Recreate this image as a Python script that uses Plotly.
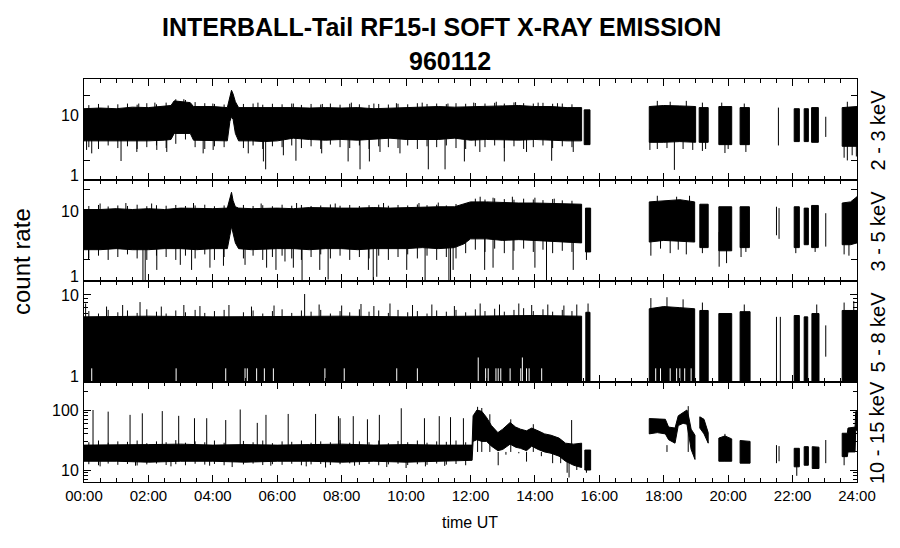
import math
import plotly.graph_objects as go
from plotly.subplots import make_subplots

# ------------------------------------------------------------------ data
# hours UT; bands given as (times, upper envelope, lower envelope)
hours_ticks = [0, 2, 4, 6, 8, 10, 12, 14, 16, 18, 20, 22, 24]
hour_labels = ["00:00", "02:00", "04:00", "06:00", "08:00", "10:00", "12:00",
               "14:00", "16:00", "18:00", "20:00", "22:00", "24:00"]
channel_labels = ["2 - 3 keV", "3 - 5 keV", "5 - 8 keV", "10 - 15 keV"]

# times at which the ragged fringe of the dense main bands was read
fringe_t = [0.15, 0.45, 0.75, 1.05, 1.35, 1.65, 1.95, 2.25, 2.55, 2.85, 3.15, 3.45, 3.75, 4.05,
            4.35, 4.95, 5.25, 5.55, 5.85, 6.15, 6.45, 6.75, 7.05, 7.35, 7.65, 7.95, 8.25, 8.55,
            8.85, 9.15, 9.45, 9.75, 10.05, 10.35, 10.65, 10.95, 11.25, 11.55, 11.85, 12.15,
            12.45, 12.75, 13.05, 13.35, 13.65, 13.95, 14.25, 14.55, 14.85, 15.15]

# ---- 2 - 3 keV
p1_main_t = [0.0, 0.5, 1.0, 1.5, 2.0, 2.5, 2.7, 2.8, 3.3, 3.4, 4.0, 4.45, 4.53, 4.58, 4.63, 4.7, 4.8,
             5.2, 5.6, 6.0, 6.5, 7.0, 7.5, 8.0, 8.5, 9.0, 9.5, 10.0, 10.5, 11.0, 11.5, 12.0,
             12.5, 13.0, 13.5, 14.0, 14.5, 15.0, 15.45]
p1_main_up = [12.5, 12.8, 12.5, 13.2, 13.0, 13.5, 14.0, 16.5, 15.5, 13.5, 13.5, 13.0, 18.0, 24.0, 21.0, 16.0, 13.0,
              13.0, 13.2, 13.0, 13.0, 12.8, 13.0, 12.8, 13.0, 12.5, 12.8, 13.0, 13.2, 13.5, 13.2, 13.5,
              13.5, 13.8, 14.0, 13.5, 13.5, 13.0, 13.0]
p1_main_lo = [4.0, 4.0, 3.9, 4.0, 4.0, 4.1, 4.2, 5.2, 5.2, 4.1, 4.0, 4.0, 8.0, 9.4, 8.5, 5.2, 4.0,
              4.0, 3.9, 4.0, 4.4, 4.2, 4.1, 4.2, 4.1, 4.2, 4.4, 4.2, 4.2, 4.2, 4.4, 4.1,
              4.2, 4.2, 4.1, 4.2, 4.1, 4.0, 4.0]
p1_segs = [
    (p1_main_t, p1_main_up, p1_main_lo),
    ([15.53, 15.71], [12.0, 12.0], [3.5, 3.5]),
    ([17.55, 18.0, 18.5, 18.99], [13.5, 14.0, 13.8, 13.5], [3.8, 3.8, 3.9, 3.8]),
    ([19.10, 19.38], [13.0, 13.0], [3.8, 3.8]),
    ([19.71, 20.11], [13.5, 13.5], [3.5, 3.5]),
    ([20.37, 20.66], [13.0, 13.0], [3.5, 3.5]),
    ([22.05, 22.21], [12.5, 12.5], [3.9, 3.9]),
    ([22.36, 22.49], [12.5, 12.5], [3.9, 3.9]),
    ([22.59, 22.80], [13.0, 13.0], [3.8, 3.8]),
    ([23.54, 24.0], [13.0, 13.5], [3.3, 3.3]),
]
p1_lines = [(21.56, 3.4, 13.0), (23.03, 4.6, 9.4)]
p1_fringe_lo = [3.2, 3.0, 3.4, 3.1, 3.3, 3.0, 3.2, 3.4, 3.1, 3.6, 4.2, 3.2, 3.0, 3.3, 3.2, 3.1, 3.4,
                3.0, 3.3, 3.2, 3.4, 3.1, 3.3, 3.0, 3.5, 3.2, 3.1, 3.4, 3.0, 3.3, 3.2, 3.1, 3.4, 3.0,
                3.3, 3.2, 3.4, 3.1, 3.0, 3.3, 3.2, 3.4, 3.1, 3.3, 3.0, 3.2, 3.4, 3.1, 3.3, 3.2]
p1_fringe_up = [14.2, 14.8, 14.0, 14.6, 15.0, 14.4, 15.2, 14.6, 15.5, 17.5, 17.0, 15.8, 15.2, 14.8,
                14.5, 14.8, 15.0, 14.4, 14.9, 14.6, 15.0, 14.3, 14.8, 14.5, 15.0, 14.4, 14.9, 14.6,
                14.3, 14.8, 14.5, 14.9, 14.6, 15.2, 14.8, 15.0, 14.7, 15.2, 14.9, 15.3, 15.0, 15.4,
                15.0, 15.6, 15.2, 15.0, 15.4, 14.9, 15.0, 14.6]
p1_spikes_dn = [(0.08, 2.9), (0.24, 2.57), (1.15, 1.96), (1.64, 2.7), (2.26, 2.9), (2.57, 2.7),
                (3.7, 2.57), (4.01, 2.9), (5.1, 2.57), (5.57, 1.93), (5.64, 1.46), (6.19, 2.4),
                (6.58, 1.98), (7.38, 2.57), (8.2, 1.93), (8.57, 1.46), (8.86, 1.93), (9.19, 2.7),
                (9.81, 2.57), (10.69, 1.46), (11.21, 1.46), (11.81, 1.93), (12.29, 2.7), (13.05, 1.93),
                (13.74, 2.7), (14.52, 1.98), (15.19, 2.7), (17.57, 2.9), (18.33, 1.43), (19.2, 2.8),
                (19.9, 2.6), (20.55, 2.7), (23.6, 2.2), (23.7, 2.0), (23.85, 2.4), (23.98, 2.3),
                (17.8, 3.0), (18.1, 3.1), (18.6, 3.0), (18.9, 2.9), (19.3, 3.0), (20.0, 3.0)]
p1_spikes_up = [(1.7, 15.0), (2.2, 15.5), (3.1, 17.5), (4.0, 15.0), (5.4, 15.5), (6.5, 15.0),
                (7.4, 14.8), (8.3, 15.5), (9.0, 15.0), (9.7, 15.2), (10.5, 15.5), (11.3, 15.0),
                (12.1, 15.5), (12.8, 16.0), (13.4, 15.8), (14.1, 15.5), (14.7, 15.2), (17.8, 16.5),
                (18.2, 16.0), (18.7, 16.5), (19.2, 15.5), (19.8, 15.5), (20.5, 15.0), (23.7, 16.0)]

# ---- 3 - 5 keV
p2_main_t = [0.0, 0.5, 1.0, 1.5, 2.0, 2.5, 3.0, 3.5, 4.0, 4.45, 4.53, 4.58, 4.63, 4.7, 4.8, 5.2,
             6.0, 6.5, 7.0, 7.5, 8.0, 8.5, 9.0, 9.5, 10.0, 10.5, 11.0, 11.5, 11.8, 12.0, 12.5,
             13.0, 13.5, 14.0, 14.5, 15.0, 15.45]
p2_main_up = [10.5, 10.5, 10.8, 10.5, 10.8, 10.5, 11.0, 10.8, 10.8, 11.0, 15.0, 18.5, 14.0, 11.5, 11.0, 10.8,
              11.0, 10.8, 11.2, 11.0, 11.0, 11.0, 11.2, 11.0, 11.2, 11.5, 11.5, 11.5, 12.5, 13.5, 13.5,
              13.2, 13.0, 13.0, 12.8, 12.5, 12.5]
p2_main_lo = [2.8, 2.8, 2.9, 2.8, 2.8, 2.9, 2.9, 2.8, 2.9, 2.9, 4.5, 6.0, 5.0, 3.5, 2.9, 2.8,
              2.9, 2.9, 2.8, 2.9, 2.9, 2.8, 2.9, 2.9, 2.9, 3.0, 2.9, 3.0, 3.4, 4.0, 4.0,
              3.8, 3.9, 3.8, 3.7, 3.6, 3.5]
p2_segs = [
    (p2_main_t, p2_main_up, p2_main_lo),
    ([15.57, 15.73], [11.0, 11.0], [2.6, 2.6]),
    ([17.55, 18.0, 18.5, 18.96], [13.5, 14.0, 14.5, 13.5], [3.6, 3.8, 3.7, 3.6]),
    ([19.12, 19.38], [12.5, 12.5], [3.0, 3.0]),
    ([19.71, 20.11], [11.5, 11.5], [2.7, 2.7]),
    ([20.37, 20.66], [11.5, 11.5], [3.0, 3.0]),
    ([22.05, 22.21], [11.5, 11.5], [3.0, 3.0]),
    ([22.36, 22.49], [11.0, 11.0], [3.3, 3.3]),
    ([22.59, 22.80], [12.0, 12.0], [3.0, 3.0]),
    ([23.54, 23.8, 24.0], [13.0, 13.5, 16.0], [3.3, 3.3, 3.5]),
]
p2_lines = [(21.5, 4.5, 11.5), (21.58, 4.0, 11.0), (23.03, 3.1, 9.3)]
p2_fringe_lo = [2.1, 2.3, 2.0, 2.2, 2.4, 2.1, 2.0, 2.3, 2.2, 2.0, 2.3, 2.1, 2.4, 2.0, 2.2, 2.1,
                2.3, 2.0, 2.2, 2.3, 2.1, 2.0, 2.2, 2.4, 2.1, 2.3, 2.0, 2.2, 2.1, 2.3, 2.0, 2.2,
                2.4, 2.1, 2.3, 2.0, 2.2, 2.1, 2.5, 2.8, 2.6, 2.9, 2.5, 2.7, 2.9, 2.6, 2.8, 2.5,
                2.7, 2.6]
p2_fringe_up = [11.8, 12.2, 11.6, 12.0, 11.8, 12.3, 11.7, 12.1, 11.9, 12.2, 11.8, 12.0, 12.3, 11.7,
                12.0, 12.2, 11.8, 12.1, 11.7, 12.3, 11.9, 12.2, 11.8, 12.0, 12.4, 11.9, 12.2, 11.8,
                12.1, 12.3, 11.9, 12.2, 12.0, 12.4, 12.1, 12.3, 12.0, 12.6, 13.0, 15.0, 14.6, 15.2,
                14.8, 14.5, 15.0, 14.6, 14.3, 14.8, 14.2, 14.0]
p2_spikes_dn = [(0.14, 2.0), (1.83, 1.0), (1.9, 1.0), (2.26, 1.44), (2.99, 1.7), (3.34, 1.44),
                (3.91, 1.55), (4.33, 1.65), (5.0, 1.7), (5.67, 1.55), (5.96, 1.44), (6.5, 1.55),
                (6.24, 1.9), (6.77, 1.0), (7.32, 1.44), (7.58, 1.05), (8.83, 1.44), (8.98, 1.0),
                (9.09, 1.15), (10.02, 1.44), (10.59, 1.0), (11.33, 1.0), (11.38, 1.0), (11.46, 1.44),
                (12.44, 1.44), (12.7, 1.55), (13.32, 1.44), (14.0, 1.55), (14.36, 1.0), (15.19, 1.44),
                (15.6, 2.0), (17.6, 2.3), (18.2, 2.5), (18.7, 2.4), (19.72, 1.6), (19.95, 1.8),
                (20.4, 2.2), (23.6, 2.4), (23.75, 2.3), (17.9, 2.9), (18.45, 2.8), (19.2, 2.5),
                (20.55, 2.6), (22.1, 2.5), (22.7, 2.6)]
p2_spikes_up = [(0.5, 12.8), (1.3, 13.0), (2.1, 12.8), (3.4, 13.0), (5.5, 12.8), (6.6, 13.0),
                (7.8, 12.8), (9.3, 13.0), (10.4, 13.0), (11.0, 13.2), (12.3, 16.0), (12.7, 15.5),
                (13.3, 16.0), (14.0, 15.5), (14.6, 15.0), (17.8, 16.5), (18.4, 16.0), (18.8, 16.5)]

# ---- 5 - 8 keV
p3_segs = [
    ([0.0, 2.0, 4.0, 6.0, 8.0, 10.0, 12.0, 14.0, 15.45],
     [5.5, 5.6, 5.5, 5.6, 5.6, 5.5, 5.6, 5.7, 5.6],
     [0.9, 0.9, 0.9, 0.9, 0.9, 0.9, 0.9, 0.9, 0.9]),
    ([15.58, 15.71], [6.2, 6.2], [0.9, 0.9]),
    ([17.55, 18.0, 18.5, 18.96], [6.8, 7.2, 7.0, 6.8], [0.9, 0.9, 0.9, 0.9]),
    ([19.12, 19.38], [6.5, 6.5], [0.9, 0.9]),
    ([19.71, 20.11], [6.0, 6.0], [0.9, 0.9]),
    ([20.37, 20.68], [6.3, 6.3], [0.9, 0.9]),
    ([22.05, 22.21], [5.7, 5.7], [0.9, 0.9]),
    ([22.36, 22.47], [5.5, 5.5], [0.9, 0.9]),
    ([22.60, 22.82], [6.0, 6.0], [0.9, 0.9]),
    ([23.54, 24.0], [6.5, 6.5], [0.9, 0.9]),
]
p3_lines = [(21.5, 0.9, 5.5), (21.62, 0.9, 5.5), (23.03, 1.94, 4.4)]
p3_fringe_up = [6.4, 6.0, 6.6, 6.2, 6.5, 6.1, 6.7, 6.3, 6.0, 6.5, 6.2, 6.6, 6.1, 6.4, 6.6, 6.2,
                6.5, 6.0, 6.4, 6.7, 6.1, 6.5, 6.3, 6.6, 6.0, 6.4, 6.2, 6.7, 6.3, 6.5, 6.1, 6.6,
                6.2, 6.4, 6.0, 6.5, 6.3, 6.6, 6.2, 6.7, 6.4, 6.8, 6.3, 6.6, 6.9, 6.4, 6.7, 6.3,
                6.6, 6.4]
p3_spikes_up = [(0.05, 7.8), (0.7, 7.2), (1.2, 7.5), (1.74, 8.1), (2.4, 7.2), (3.1, 7.5), (3.6, 7.3),
                (4.5, 7.5), (5.2, 7.2), (5.9, 7.4), (6.85, 10.0), (7.3, 7.6), (8.0, 7.4), (8.6, 7.7),
                (9.0, 7.3), (9.5, 7.8), (10.2, 7.5), (10.8, 7.6), (11.5, 7.3), (12.3, 7.8), (12.9, 7.6),
                (13.5, 7.8), (13.9, 7.5), (14.4, 7.6), (14.9, 7.4), (15.3, 7.6), (15.65, 7.8),
                (17.6, 9.0), (18.1, 9.2), (18.6, 8.7), (19.2, 8.0), (20.5, 7.6), (22.75, 7.6),
                (23.6, 8.0), (23.9, 8.3)]
p3_gaps = [(0.24, 1.43), (2.86, 1.43), (4.4, 1.43), (5.0, 1.43), (5.07, 1.43), (5.36, 1.43),
           (5.6, 1.43), (5.88, 1.43), (7.48, 1.43), (8.08, 1.43), (9.71, 1.43), (10.35, 1.43),
           (12.24, 1.9), (12.47, 1.43), (12.55, 1.43), (12.79, 1.43), (12.86, 1.43), (12.94, 1.43),
           (13.23, 1.43), (13.56, 1.43), (13.61, 1.9), (13.74, 1.43), (13.82, 1.43), (14.21, 1.43),
           (17.75, 1.43), (17.9, 1.43), (18.2, 1.43), (18.4, 1.43), (18.5, 1.43), (18.65, 1.43),
           (18.85, 1.43)]

# ---- 10 - 15 keV
p4_main_t = [0.0, 1.0, 2.0, 3.0, 4.0, 5.0, 6.0, 7.0, 8.0, 9.0, 10.0, 11.0, 12.05,
             12.08, 12.2, 12.35, 12.5, 12.65, 12.85, 13.0, 13.23, 13.4, 13.55, 13.74, 13.9,
             14.1, 14.3, 14.5, 14.75, 14.95, 15.2, 15.45]
p4_main_up = [26, 26, 26.5, 27, 26, 26.5, 26, 26.5, 27, 26, 26.5, 26, 26,
              80, 100, 95, 75, 55, 42, 48, 62, 52, 48, 45, 50,
              45, 40, 38, 34, 28, 27, 28]
p4_main_lo = [14, 14, 13.5, 14, 14, 13.5, 14, 14, 13.5, 14, 13.5, 14, 14.5,
              30, 32, 30, 30, 25, 21, 22, 27, 24, 23, 21, 25,
              22, 20, 19, 17, 14, 12, 11]
p4_segs = [
    (p4_main_t, p4_main_up, p4_main_lo),
    ([15.55, 15.73], [21.5, 21.5], [10.0, 10.0]),
    ([17.55, 17.8, 18.05, 18.15, 18.35, 18.45, 18.6, 18.72, 18.78, 18.85, 18.97],
     [72, 72, 70, 52, 50, 80, 92, 100, 75, 48, 38],
     [40, 42, 40, 32, 28, 55, 60, 58, 40, 22, 15]),
    ([19.12, 19.25, 19.38], [77, 70, 42], [50, 40, 28]),
    ([19.71, 19.9, 20.11], [34, 37, 33], [14, 14, 14]),
    ([20.37, 20.68], [31, 30], [13, 13]),
    ([22.05, 22.21], [23, 23], [11.3, 11.3]),
    ([22.36, 22.49], [24.5, 24.5], [12, 12]),
    ([22.61, 22.82], [24.5, 24], [10.6, 10.6]),
    ([23.54, 23.7, 23.72, 23.94, 23.96, 24.0], [41, 41, 50, 52, 94, 94], [16.7, 16.7, 20, 20, 46, 46]),
]
p4_lines = [(21.5, 13, 26), (21.58, 14, 25), (23.03, 13, 31.6)]
p4_fringe_t = fringe_t[:39]
p4_fringe_up = [29, 31, 28.5, 30, 29.5, 31, 28, 30, 29, 31.5, 28.5, 30, 29, 31, 28.5, 30.5,
                29, 31, 28, 30, 29.5, 31, 28.5, 30, 29, 31.5, 28.5, 30, 29, 31, 28, 30.5, 29,
                31, 28.5, 30, 29.5, 31, 29]
p4_fringe_lo = [12.5, 12.0, 12.8, 12.2, 12.6, 11.9, 12.4, 12.8, 12.1, 12.5, 12.0, 12.7, 12.3,
                12.6, 12.0, 12.4, 12.8, 12.1, 12.5, 12.2, 12.7, 12.0, 12.4, 12.6, 12.1, 12.5,
                12.9, 12.2, 12.6, 12.0, 12.4, 12.7, 12.1, 12.5, 12.2, 12.8, 12.3, 12.6, 12.0]
p4_spikes_up = [(0.28, 100), (0.75, 94), (1.43, 83), (1.81, 88), (2.43, 96), (2.94, 80), (3.43, 73),
                (3.81, 73), (4.4, 68), (4.85, 102), (5.38, 61), (5.65, 83), (6.34, 86), (7.19, 86),
                (7.9, 79), (7.95, 73), (8.36, 79), (8.8, 70), (9.17, 83), (9.85, 107), (10.57, 73),
                (11.03, 79), (11.38, 76), (11.78, 73), (12.22, 113), (12.35, 108), (15.14, 68),
                (18.76, 116), (19.9, 40), (12.6, 85), (13.25, 70), (13.95, 58)]
p4_spikes_dn = [(0.5, 11.5), (1.6, 11.8), (2.7, 11.5), (3.9, 11.8), (4.6, 11.2), (5.8, 11.8),
                (6.9, 11.5), (7.5, 11.0), (8.4, 11.8), (9.4, 11.2), (10.0, 10.8), (10.6, 11.5),
                (11.2, 11.7), (12.3, 20), (12.86, 12), (13.74, 13.8), (14.55, 13), (15.0, 9),
                (15.06, 7.5), (15.3, 10), (15.6, 9), (18.1, 26), (22.13, 8), (23.6, 12),
                (13.1, 18), (13.5, 19), (14.2, 17), (14.8, 13)]

# ------------------------------------------------------------------ helpers
def band_xy(segs):
    xs, ys = [], []
    for t, up, lo in segs:
        xs += list(t) + list(t[::-1]) + [t[0], None]
        ys += list(up) + list(lo[::-1]) + [up[0], None]
    return xs, ys


def vlines_xy(items):
    xs, ys = [], []
    for t, a, b in items:
        xs += [t, t, None]
        ys += [a, b, None]
    return xs, ys


def spikes(items, base):
    return [(t, base, v) for t, v in items]


def fringe(times, vals, base):
    return [(t, base, v) for t, v in zip(times, vals)]


panels = [
    dict(segs=p1_segs,
         lines=p1_lines + spikes(p1_spikes_dn, 6) + spikes(p1_spikes_up, 9)
         + fringe(fringe_t, p1_fringe_lo, 6) + fringe(fringe_t, p1_fringe_up, 9), gaps=[]),
    dict(segs=p2_segs,
         lines=p2_lines + spikes(p2_spikes_dn, 5) + spikes(p2_spikes_up, 8)
         + fringe(fringe_t, p2_fringe_lo, 5) + fringe(fringe_t, p2_fringe_up, 8), gaps=[]),
    dict(segs=p3_segs,
         lines=p3_lines + spikes(p3_spikes_up, 4) + fringe(fringe_t, p3_fringe_up, 4),
         gaps=p3_gaps),
    dict(segs=p4_segs,
         lines=p4_lines + spikes(p4_spikes_up, 20) + spikes(p4_spikes_dn, 20)
         + fringe(p4_fringe_t, p4_fringe_up, 20) + fringe(p4_fringe_t, p4_fringe_lo, 20), gaps=[]),
]

fig = make_subplots(rows=4, cols=1, shared_xaxes=True, vertical_spacing=0)

for i, p in enumerate(panels, start=1):
    bx, by = band_xy(p["segs"])
    fig.add_trace(go.Scatter(x=bx, y=by, mode="lines", fill="toself", fillcolor="black",
                             line=dict(color="black", width=1), hoverinfo="skip",
                             showlegend=False), row=i, col=1)
    lx, ly = vlines_xy(p["lines"])
    fig.add_trace(go.Scatter(x=lx, y=ly, mode="lines", line=dict(color="black", width=1),
                             hoverinfo="skip", showlegend=False), row=i, col=1)
    if p["gaps"]:
        gx, gy = vlines_xy([(t, 0.9, v) for t, v in p["gaps"]])
        fig.add_trace(go.Scatter(x=gx, y=gy, mode="lines", line=dict(color="white", width=1),
                                 hoverinfo="skip", showlegend=False), row=i, col=1)

# ------------------------------------------------------------------ axes
# page is rendered with an 8 px body margin, so the figure is 892x540 and offset by 8 px
OFF = 8
FIG_W, FIG_H = 900 - OFF, 548 - OFF
P_L, P_R, H_TOP, H_BOT = 84, 857, 79, 482       # plot area in page pixels
tot = H_BOT - H_TOP
wid = P_R - P_L
bounds = [79, 180, 281, 382, 482]
domains = [[(H_BOT - bounds[k + 1]) / tot, (H_BOT - bounds[k]) / tot] for k in range(4)]

font_main = "Liberation Sans, Arial, Helvetica, sans-serif"

yranges = [[0, 1.554], [0, 1.443], [0, 1.148], [0.8, 2.467]]
ymajor = [[1, 2, 10, 20], [1, 2, 10, 20], [1, 10], [10, 100]]
yminor = [[], [], [2, 3, 4, 5, 6, 7, 8, 9],
          [7, 8, 9, 20, 30, 40, 50, 60, 70, 80, 90, 200]]
# y tick labels: (value, text, vertical nudge in px)
ylabels = [[(1, "1", 5), (10, "10", 0)],
           [(1, "1", 5), (10, "10", 0)],
           [(1, "1", 6), (10, "10", -1)],
           [(10, "10", 0), (100, "100", 0)]]

for k in range(4):
    n = k + 1
    xa = "xaxis" if n == 1 else f"xaxis{n}"
    ya = "yaxis" if n == 1 else f"yaxis{n}"
    fig.layout[xa].update(
        range=[0, 24], showline=True, linecolor="black", linewidth=1, mirror="ticks",
        ticks="inside", ticklen=7, tickwidth=1, tickcolor="black",
        tickvals=hours_ticks, ticktext=hour_labels, showticklabels=(n == 4),
        minor=dict(dtick=0.5, ticks="inside", ticklen=4, tickcolor="black", tickwidth=1),
        showgrid=False, zeroline=False, automargin=False,
        tickfont=dict(family=font_main, size=15, color="black"),
    )
    fig.layout[ya].update(
        type="log", range=yranges[k], domain=domains[k],
        showline=True, linecolor="black", linewidth=1, mirror="ticks",
        ticks="inside", ticklen=7 if k >= 2 else 6, tickwidth=1, tickcolor="black",
        tickvals=ymajor[k], showticklabels=False,
        minor=dict(tickvals=yminor[k], ticks="inside", ticklen=4, tickcolor="black", tickwidth=1)
        if yminor[k] else dict(ticks=""),
        showgrid=False, zeroline=False, automargin=False,
    )

fig.update_layout(
    template="none",
    width=FIG_W, height=FIG_H,
    margin=dict(l=P_L - OFF, r=FIG_W - (P_R - OFF), t=H_TOP - OFF, b=FIG_H - (H_BOT - OFF),
                autoexpand=False),
    paper_bgcolor="white", plot_bgcolor="white",
    showlegend=False,
)


def px(xp):
    return (xp - P_L) / wid


def py(yp):
    return (H_BOT - yp) / tot


ann = []
ann.append(dict(text="<b>INTERBALL-Tail RF15-I SOFT X-RAY EMISSION</b>", x=px(441), y=py(27),
                xref="paper", yref="paper", showarrow=False, xanchor="center", yanchor="middle",
                font=dict(family=font_main, size=25, color="black")))
ann.append(dict(text="<b>960112</b>", x=px(450), y=py(61),
                xref="paper", yref="paper", showarrow=False, xanchor="center", yanchor="middle",
                font=dict(family=font_main, size=25, color="black")))
ann.append(dict(text="count rate", x=px(22), y=py(262), xref="paper",
                yref="paper", showarrow=False, textangle=-90, xanchor="center", yanchor="middle",
                font=dict(family=font_main, size=24, color="black")))
ann.append(dict(text="time UT", x=px(470), y=py(522), xref="paper",
                yref="paper", showarrow=False, xanchor="center", yanchor="middle",
                font=dict(family=font_main, size=16, color="black")))
for k, lab in enumerate(channel_labels):
    ann.append(dict(text=lab, x=px(877), y=sum(domains[k]) / 2, xref="paper",
                    yref="paper", showarrow=False, textangle=-90, xanchor="center",
                    yanchor="middle", font=dict(family=font_main, size=20, color="black")))
for k in range(4):
    yref = "y" if k == 0 else f"y{k + 1}"
    for val, txt, nudge in ylabels[k]:
        ann.append(dict(text=txt, x=0, xref="paper", xanchor="right", xshift=-3,
                        y=math.log10(val), yref=yref, yanchor="middle", yshift=nudge,
                        showarrow=False, font=dict(family=font_main, size=16, color="black")))
fig.update_layout(annotations=ann)

fig.write_html("out.html")
